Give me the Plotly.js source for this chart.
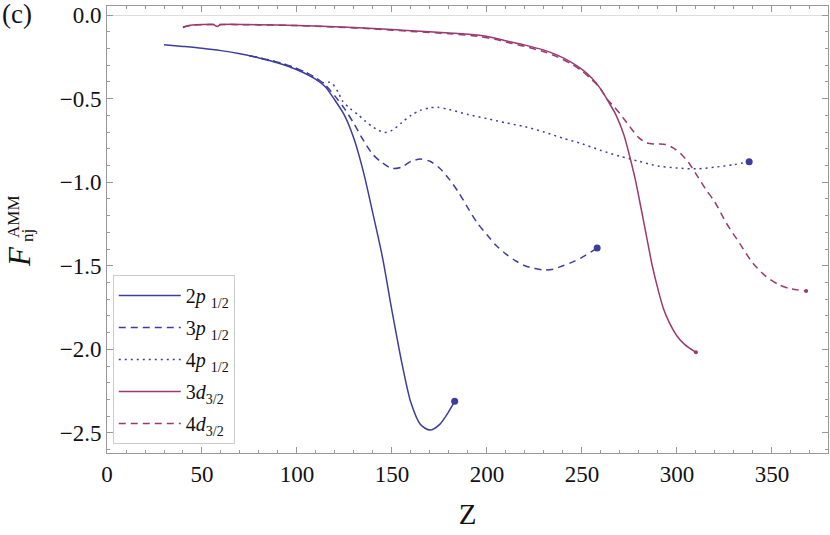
<!DOCTYPE html>
<html>
<head>
<meta charset="utf-8">
<script src="https://cdn.plot.ly/plotly-3.0.1.min.js"></script>
<style>
  body { margin: 0; background: #fff; }
  #chart { width: 830px; height: 535px; }
</style>
</head>
<body>
<div id="chart"></div>
<script>
// values (Z vs F_nj^AMM)
const z2p = [30, 40, 50, 60, 70, 80, 90, 100, 110, 115, 120, 125, 130, 135, 140, 145, 150, 155, 160, 165, 170, 175, 180, 183];
const f2p = [-0.178, -0.188, -0.199, -0.213, -0.232, -0.257, -0.287, -0.327, -0.385, -0.43, -0.51, -0.6, -0.74, -0.94, -1.19, -1.45, -1.77, -2.07, -2.32, -2.45, -2.483, -2.45, -2.37, -2.31];

const z3p = [75, 85, 95, 105, 110, 115, 120, 125, 130, 135, 140, 145, 150, 155, 160, 165, 170, 175, 180, 185, 190, 195, 200, 205, 210, 215, 220, 225, 230, 235, 240, 245, 250, 255, 258];
const f3p = [-0.243, -0.268, -0.3, -0.345, -0.375, -0.42, -0.485, -0.56, -0.65, -0.75, -0.835, -0.885, -0.918, -0.91, -0.875, -0.862, -0.875, -0.915, -0.98, -1.06, -1.155, -1.245, -1.315, -1.38, -1.43, -1.47, -1.5, -1.515, -1.525, -1.52, -1.5, -1.478, -1.45, -1.415, -1.394];

const z4p = [75, 85, 95, 105, 110, 114, 117, 119, 122, 124, 128, 132, 136, 140, 143, 146, 150, 155, 160, 165, 170, 174, 180, 190, 200, 210, 220, 230, 240, 250, 260, 270, 280, 290, 300, 310, 320, 330, 338];
const f4p = [-0.243, -0.268, -0.3, -0.345, -0.385, -0.405, -0.402, -0.415, -0.47, -0.515, -0.56, -0.595, -0.635, -0.67, -0.69, -0.702, -0.69, -0.645, -0.6, -0.57, -0.555, -0.552, -0.565, -0.595, -0.62, -0.645, -0.668, -0.7, -0.737, -0.77, -0.81, -0.845, -0.875, -0.903, -0.915, -0.92, -0.91, -0.895, -0.877];

const z3d = [40, 42, 45, 50, 56, 58, 60, 80, 100, 120, 140, 160, 180, 195, 205, 212, 220, 230, 237, 244, 250, 255, 260, 264, 268, 272, 275, 278, 281, 284, 287, 290, 293, 296, 300, 304, 310];
const f3d = [-0.076, -0.066, -0.06, -0.057, -0.057, -0.068, -0.057, -0.058, -0.062, -0.07, -0.08, -0.094, -0.107, -0.12, -0.14, -0.16, -0.18, -0.21, -0.24, -0.28, -0.325, -0.375, -0.445, -0.52, -0.6, -0.715, -0.84, -0.98, -1.15, -1.325, -1.5, -1.64, -1.76, -1.84, -1.92, -1.97, -2.018];

const z4d = [40, 45, 50, 60, 80, 100, 120, 140, 160, 180, 195, 205, 212, 220, 230, 237, 244, 250, 255, 259, 263, 267, 270, 275, 280, 284, 288, 294, 298, 302, 306, 310, 315, 320, 326, 333, 340, 347, 354, 360, 368];
const f4d = [-0.072, -0.06, -0.058, -0.057, -0.059, -0.063, -0.072, -0.083, -0.098, -0.112, -0.127, -0.147, -0.167, -0.188, -0.22, -0.25, -0.29, -0.335, -0.385, -0.43, -0.5, -0.55, -0.59, -0.665, -0.735, -0.765, -0.772, -0.774, -0.795, -0.83, -0.88, -0.95, -1.04, -1.12, -1.245, -1.366, -1.485, -1.565, -1.615, -1.638, -1.651];

const seriesNames = ["2<i>p</i> <sub>1/2</sub>", "3<i>p</i> <sub>1/2</sub>", "4<i>p</i> <sub>1/2</sub>", "3<i>d</i><sub>3/2</sub>", "4<i>d</i><sub>3/2</sub>"];

const BLUE = "#3d3d9e";
const PLUM = "#9b3a70";
const serif = "Liberation Serif, Times New Roman, serif";

const series = [
  { x: z2p, y: f2p, color: BLUE, dash: "solid", dot: 7 },
  { x: z3p, y: f3p, color: BLUE, dash: "7px,5px", dot: 7 },
  { x: z4p, y: f4p, color: BLUE, dash: "2px,4px", dot: 7 },
  { x: z3d, y: f3d, color: PLUM, dash: "solid", dot: 4 },
  { x: z4d, y: f4d, color: PLUM, dash: "7px,5px", dot: 4 },
];

const traces = [];
series.forEach((s, i) => {
  traces.push({
    type: "scatter",
    mode: "lines",
    name: seriesNames[i],
    legendgroup: "g" + i,
    x: s.x,
    y: s.y,
    line: { color: s.color, width: 1.5, dash: s.dash, shape: "spline", smoothing: 0.8 },
  });
});
// end-point dots
series.forEach((s, i) => {
  traces.push({
    type: "scatter",
    mode: "markers",
    showlegend: false,
    hoverinfo: "skip",
    x: [s.x[s.x.length - 1]],
    y: [s.y[s.y.length - 1]],
    marker: { color: s.color, size: s.dot },
  });
});

const frame = {
  showline: true,
  linecolor: "#999",
  linewidth: 1,
  mirror: "allticks",
  ticks: "inside",
  tickcolor: "#999",
  ticklen: 6,
  tickwidth: 1,
  showgrid: false,
  tickfont: { family: serif, size: 23, color: "#111" },
};

// pixel -> paper helpers for the stacked y-axis title
const px = (v) => (v - 107) / 721;
const py = (v) => (453 - v) / 447;

const layout = {
  width: 830,
  height: 535,
  margin: { l: 107, r: 2, t: 6, b: 82 },
  paper_bgcolor: "#fff",
  plot_bgcolor: "#fff",
  showlegend: true,
  xaxis: Object.assign({}, frame, {
    range: [0, 379.5],
    tick0: 0,
    dtick: 50,
    zeroline: false,
    minor: { dtick: 10, ticks: "inside", ticklen: 3, tickcolor: "#999", showgrid: false },
    title: { text: "Z", font: { family: serif, size: 29, color: "#111" }, standoff: 18 },
  }),
  yaxis: Object.assign({}, frame, {
    range: [-2.62, 0.054],
    tick0: 0,
    dtick: 0.5,
    tickformat: ".1f",
    zeroline: true,
    zerolinecolor: "#ddd",
    zerolinewidth: 1,
    minor: { dtick: 0.1, ticks: "inside", ticklen: 3, tickcolor: "#999", showgrid: false },
  }),
  legend: {
    x: 0.008,
    y: py(275),
    xanchor: "left",
    yanchor: "top",
    bgcolor: "#fff",
    bordercolor: "#ccc",
    borderwidth: 1,
    itemwidth: 62,
    tracegroupgap: 3,
    font: { family: serif, size: 20, color: "#111" },
  },
  annotations: [
    {
      text: "(c)",
      xref: "paper",
      yref: "paper",
      x: -0.148,
      y: 0.983,
      xanchor: "left",
      yanchor: "middle",
      showarrow: false,
      font: { family: serif, size: 27, color: "#111" },
    },
    {
      text: "<i>F</i>",
      xref: "paper", yref: "paper",
      x: px(19), y: py(257),
      xanchor: "center", yanchor: "middle",
      textangle: -90, showarrow: false,
      font: { family: serif, size: 31, color: "#111" },
    },
    {
      text: "AMM",
      xref: "paper", yref: "paper",
      x: px(13), y: py(217),
      xanchor: "center", yanchor: "middle",
      textangle: -90, showarrow: false,
      font: { family: serif, size: 17, color: "#111" },
    },
    {
      text: "nj",
      xref: "paper", yref: "paper",
      x: px(27), y: py(236),
      xanchor: "center", yanchor: "middle",
      textangle: -90, showarrow: false,
      font: { family: serif, size: 17, color: "#111" },
    },
  ],
};

Plotly.newPlot("chart", traces, layout, { displayModeBar: false, staticPlot: true });
</script>
</body>
</html>
